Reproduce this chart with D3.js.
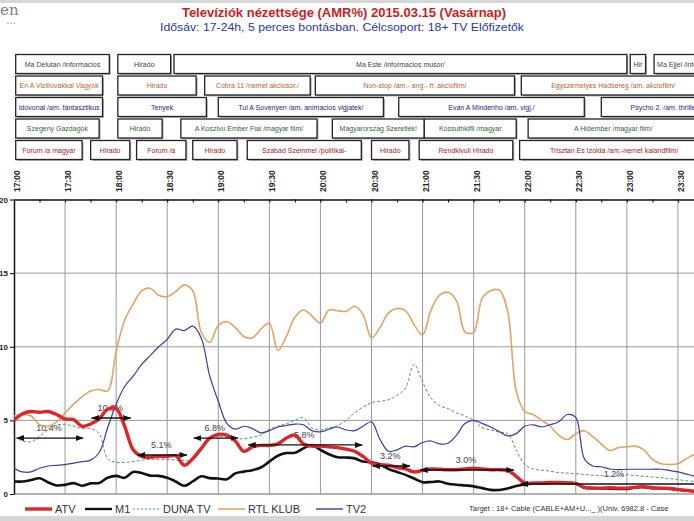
<!DOCTYPE html>
<html>
<head>
<meta charset="utf-8">
<title>Televíziók nézettsége</title>
<style>
  body { margin: 0; background: #fff; }
  svg { display: block; font-family: "Liberation Sans", Arial, sans-serif; }
</style>
<script src="https://cdnjs.cloudflare.com/ajax/libs/d3/7.8.5/d3.min.js"></script>
</head>
<body>
<div id="chart"></div>
<script>
// ---- data ----
const startTime = "17:00";
const stepMinutes = 5;
const channels = ["ATV", "M1", "DUNA TV", "RTL KLUB", "TV2"];

const atv = [5.0,5.45,5.6,5.55,5.6,5.4,5.1,5.05,4.6,4.75,
  5.1,5.75,5.8,4.6,3.0,2.55,2.5,2.55,2.55,2.6,
  1.95,2.4,3.1,3.8,4.05,4.0,3.6,2.9,3.2,3.3,
  3.3,3.4,3.8,4.0,3.4,3.25,3.25,3.2,3.15,3.05,
  2.9,2.55,2.1,2.0,1.95,1.8,1.7,1.5,1.6,1.7,
  1.68,1.65,1.65,1.7,1.75,1.7,1.65,1.65,1.6,1.2,
  0.75,0.75,0.75,0.78,0.78,0.75,0.72,0.45,0.4,0.4,
  0.42,0.4,0.4,0.45,0.5,0.42,0.4,0.38,0.3,0.25,0.18];
const m1 = [0.85,0.85,0.95,1.07,0.8,0.58,0.62,0.74,0.56,0.72,
  0.75,1.1,1.23,1.1,1.5,1.42,1.25,1.23,1.1,0.85,
  0.56,0.85,1.2,1.08,1.05,1.0,1.4,1.52,1.62,1.8,
  2.2,2.6,2.78,2.8,3.1,3.32,3.0,2.7,2.5,2.48,
  2.42,2.2,2.15,2.0,1.7,1.5,1.3,1.05,0.8,0.82,
  0.85,0.7,0.63,0.58,0.52,0.4,0.28,0.27,0.38,0.55,
  0.65,0.7,0.72,0.75,0.78,0.75,0.7,0.42,0.4,0.38,
  0.36,0.35,0.34,0.45,0.47,0.4,0.38,0.35,0.3,0.22,0.18];
const duna = [3.88,3.6,3.55,3.9,4.4,4.68,4.73,4.6,4.45,4.44,
  4.1,2.4,2.15,2.15,2.2,2.3,2.35,2.35,2.35,2.3,
  2.27,2.3,3.0,3.85,3.9,3.85,3.77,3.75,3.85,4.0,
  4.4,4.6,4.78,5.0,5.18,4.5,4.35,4.5,4.65,5.0,
  5.5,5.9,6.2,6.3,6.4,6.7,7.2,8.8,7.6,6.5,
  6.0,5.8,5.5,5.3,5.0,4.5,4.35,4.2,4.1,3.0,
  2.0,1.7,1.62,1.55,1.45,1.42,1.38,1.32,1.28,1.25,
  1.23,1.25,1.3,1.25,1.2,1.15,1.1,1.05,0.98,0.9,0.85];
const rtl = [5.3,5.4,5.3,4.7,4.6,4.9,5.5,6.1,6.6,7.0,
  7.1,7.0,9.7,11.8,12.9,13.8,13.97,13.5,13.4,13.75,
  14.2,13.8,11.0,10.3,11.45,11.7,11.3,10.7,10.6,11.2,
  11.6,9.75,10.7,12.0,12.5,12.1,11.6,12.5,12.45,12.4,
  12.75,12.2,10.6,11.3,12.3,12.6,12.45,11.5,10.8,12.5,
  13.5,13.7,13.1,11.0,11.0,13.3,13.8,13.85,12.4,7.0,
  5.6,5.4,5.0,4.6,4.0,3.7,4.1,4.3,3.9,3.4,
  2.95,3.15,3.2,3.25,3.0,2.35,2.05,2.0,2.05,2.4,2.7];
const tv2 = [1.75,1.5,1.5,1.75,1.9,1.95,2.0,2.1,2.2,2.3,
  2.8,4.5,6.1,7.3,8.0,8.8,9.4,10.0,10.5,11.2,
  11.1,11.4,10.6,8.0,6.3,4.8,4.4,4.6,4.45,4.15,
  4.3,4.55,4.65,4.75,4.7,4.3,4.22,4.4,4.55,4.35,
  4.3,4.6,4.9,3.7,2.9,3.0,3.25,3.2,3.5,3.6,
  3.4,3.45,4.0,4.8,5.0,4.8,4.55,4.25,3.95,4.1,
  4.6,4.7,4.55,4.7,4.9,5.4,5.2,2.4,1.9,1.85,
  1.7,1.65,1.68,1.68,1.68,1.68,1.68,1.6,1.5,1.35,1.2];

const timeTicks = ["17:00","17:30","18:00","18:30","19:00","19:30","20:00",
  "20:30","21:00","21:30","22:00","22:30","23:00","23:30"];
const yTicks = [0, 5, 10, 15, 20];

// program guide rows: [title, start, end]
const progM1 = [
  ["Ma Delutan /informacios", "17:01", "17:56"],
  ["Hirado", "18:01", "18:32"],
  ["Ma Este /informacios musor/", "18:34", "23:00"],
  ["Hir", "23:02", "23:11"],
  ["Ma Ejjel /informacios musor/", "23:16", "24:00"]];
const progRTL = [
  ["En A Viziilovakkal Vagyok", "17:01", "17:52"],
  ["Hirado", "18:01", "18:47"],
  ["Cobra 11 /nemet akciosor./", "18:52", "19:54"],
  ["Non-stop /am.- ang.- fr. akciofilm/", "19:57", "21:54"],
  ["Egyszemelyes Hadsereg /am. akciofilm/", "21:58", "23:46"]];
const progTV2 = [
  ["Idovonal /am. fantasztikus", "17:01", "17:52"],
  ["Tenyek", "18:01", "18:53"],
  ["Tul A Sovenyen /am. animacios vigjatek/", "19:00", "20:37"],
  ["Evan A Mindenho /am. vigj./", "20:46", "22:35"],
  ["Psycho 2. /am. thriller/", "22:45", "24:00"]];
const progDUNA = [
  ["Szegeny Gazdagok", "17:01", "17:50"],
  ["Hirado", "18:01", "18:27"],
  ["A Koszivu Ember Fiai /magyar film/", "18:38", "19:58"],
  ["Magyarorszag  Szeretlek!", "20:07", "21:01"],
  ["Kossuthkifli /magyar", "21:01", "21:55"],
  ["A Hidember /magyar film/", "22:02", "23:42"]];
const progATV = [
  ["Forum /a magyar", "17:01", "17:40"],
  ["Hirado", "17:45", "18:08"],
  ["Forum /a", "18:12", "18:41"],
  ["Hirado", "18:45", "19:11"],
  ["Szabad Szemmel /politikai-", "19:17", "20:24"],
  ["Hirado", "20:30", "20:52"],
  ["Rendkivuli Hirado", "20:58", "21:53"],
  ["Trisztan Es Izolda /am.-nemet kalandfilm/", "21:57", "23:48"]];

// ATV program shares: label and level of the span arrow
const shareLabels = ["10.4%", "10.6%", "5.1%", "6.8%", "5.8%", "3.2%", "3.0%", "1.2%"];
const shareLevels = [3.8, 5.16, 2.65, 3.8, 3.33, 1.9, 1.63, 0.68];

// ---- layout ----
const W = 694, H = 521;
const plotLeft = 14, plotTop = 199.5, plotBottom = 494;

const parseT = s => {
  const [h, m] = s.split(":").map(Number);
  return new Date(2015, 2, 15, h, m);
};
const t0 = parseT(startTime);
const tAt = i => new Date(t0.getTime() + i * stepMinutes * 60000);

const x = d3.scaleTime().domain([t0, parseT("24:00")]).range([plotLeft, 729]);
const y = d3.scaleLinear().domain([0, 20]).range([plotBottom, plotTop]);

const svg = d3.select("#chart").append("svg")
  .attr("width", W).attr("height", H);

svg.append("rect").attr("width", W).attr("height", H).attr("fill", "#fff");
// frame bands of the screenshot
svg.append("rect").attr("x", 0).attr("y", 0).attr("width", W).attr("height", 3).attr("fill", "#d6d6d6");
svg.append("rect").attr("x", 0).attr("y", 516).attr("width", W).attr("height", 5).attr("fill", "#d6d6d6");

// logo fragment
svg.append("text").attr("x", 0).attr("y", 15)
  .attr("font-family", "DejaVu Serif, serif").attr("font-size", 15)
  .attr("fill", "#808080").text("en");
svg.append("text").attr("x", 7).attr("y", 25)
  .attr("font-size", 5).attr("fill", "#999").text("• • •");

// titles
svg.append("text").attr("x", 344).attr("y", 17)
  .attr("text-anchor", "middle").attr("font-weight", "bold")
  .attr("font-size", 13).attr("fill", "#d01c1c")
  .text("Televíziók nézettsége (AMR%) 2015.03.15 (Vasárnap)");
svg.append("text").attr("x", 342).attr("y", 31)
  .attr("text-anchor", "middle").attr("font-size", 11)
  .attr("fill", "#2a35b0")
  .attr("textLength", 364).attr("lengthAdjust", "spacingAndGlyphs")
  .text("Idősáv: 17-24h, 5 perces bontásban. Célcsoport: 18+ TV  Előfizetők");

// ---- program guide boxes ----
const rows = [
  {progs: progM1, color: "#444"},
  {progs: progRTL, color: "#b8652e"},
  {progs: progTV2, color: "#1f2590"},
  {progs: progDUNA, color: "#2f6a35"},
  {progs: progATV, color: "#a82020"}];
const rowY = [54.5, 76, 97.5, 119, 140.5];
const boxH = 19;

const defs = svg.append("defs");
const guide = svg.append("g");
rows.forEach((row, r) => {
  row.progs.forEach((p, j) => {
    const x0 = x(parseT(p[1])), x1 = x(parseT(p[2]));
    const id = "clipbox" + r + "_" + j;
    defs.append("clipPath").attr("id", id)
      .append("rect").attr("x", x0 + 0.5).attr("y", rowY[r]).attr("width", x1 - x0 - 1).attr("height", boxH);
    // soft shadow
    guide.append("rect")
      .attr("x", x0 + 1.5).attr("y", rowY[r] + 1.5).attr("width", x1 - x0).attr("height", boxH)
      .attr("fill", "#b5b5b5");
    guide.append("rect")
      .attr("x", x0).attr("y", rowY[r]).attr("width", x1 - x0).attr("height", boxH)
      .attr("fill", "#fff").attr("stroke", "#222").attr("stroke-width", 1.3);
    const t = guide.append("text")
      .attr("clip-path", "url(#" + id + ")")
      .attr("y", rowY[r] + boxH / 2 + 2.5)
      .attr("font-size", 7).attr("fill", row.color)
      .text(p[0]);
    const tw = t.node().getComputedTextLength();
    if (tw > x1 - x0 - 3) {
      t.attr("x", x0 + 3);
    } else {
      t.attr("x", (x0 + x1) / 2).attr("text-anchor", "middle");
    }
  });
});

// ---- grid ----
const grid = svg.append("g");
grid.selectAll("line.h").data([5, 10, 15]).enter().append("line")
  .attr("x1", plotLeft).attr("x2", W).attr("y1", d => y(d)).attr("y2", d => y(d))
  .attr("stroke", "#9a9a9a").attr("stroke-width", 1);
grid.selectAll("line.v").data(timeTicks.slice(1)).enter().append("line")
  .attr("x1", d => x(parseT(d))).attr("x2", d => x(parseT(d)))
  .attr("y1", plotTop).attr("y2", plotBottom)
  .attr("stroke", "#9a9a9a").attr("stroke-width", 1);
grid.append("line").attr("x1", plotLeft).attr("x2", W).attr("y1", plotBottom).attr("y2", plotBottom)
  .attr("stroke", "#9a9a9a").attr("stroke-width", 1.5);

// top axis: 15 minute ticks
const minorTicks = d3.timeMinute.every(15).range(t0, parseT("24:00"));
const topAxis = d3.axisBottom(x).tickValues(minorTicks).tickSize(3).tickFormat("").tickSizeOuter(0);
svg.append("g").attr("transform", "translate(0," + plotTop + ")").call(topAxis)
  .call(g => g.select(".domain").attr("stroke", "#111").attr("stroke-width", 1.5));

svg.append("g").selectAll("text").data(timeTicks).enter().append("text")
  .attr("transform", d => "translate(" + (x(parseT(d)) + 6) + ",192) rotate(-90)")
  .attr("font-size", 8.5).attr("font-weight", "bold").attr("fill", "#222")
  .text(d => d);

// left axis
const yAxis = d3.axisLeft(y).tickValues(yTicks).tickSize(4).tickPadding(2).tickSizeOuter(0);
svg.append("g").attr("transform", "translate(" + plotLeft + ",0)").call(yAxis)
  .call(g => g.select(".domain").attr("stroke", "#111").attr("stroke-width", 1.5))
  .call(g => g.selectAll("text").attr("font-size", 8).attr("font-weight", "bold").attr("fill", "#222"));

// ---- share annotations (ATV programs) ----
const ann = svg.append("g");
progATV.forEach((p, i) => {
  const x0 = x(parseT(p[1])), x1 = x(parseT(p[2]));
  ann.append("text").attr("x", (x0 + x1) / 2).attr("y", y(shareLevels[i]) - 7)
    .attr("text-anchor", "middle").attr("font-size", 9).attr("fill", "#444")
    .text(shareLabels[i]);
});

// ---- series ----
const plotClip = defs.append("clipPath").attr("id", "plotclip");
plotClip.append("rect").attr("x", plotLeft).attr("y", plotTop - 5).attr("width", W - plotLeft).attr("height", plotBottom - plotTop + 10);

const line = d3.line()
  .x((d, i) => x(tAt(i)))
  .y(d => y(d))
  .curve(d3.curveCatmullRom.alpha(0.5));

const series = [
  {name: "DUNA TV", values: duna, color: "#4f9a7c", width: 1, dash: "3,2"},
  {name: "RTL KLUB", values: rtl, color: "#e3a364", width: 1.6, dash: null},
  {name: "TV2", values: tv2, color: "#3d3aa8", width: 1.2, dash: null},
  {name: "M1", values: m1, color: "#111", width: 2.6, dash: null},
  {name: "ATV", values: atv, color: "#e02428", width: 3.4, dash: null}];

const plot = svg.append("g").attr("clip-path", "url(#plotclip)");
series.forEach(s => {
  plot.append("path").datum(s.values)
    .attr("d", line)
    .attr("fill", "none")
    .attr("stroke", s.color)
    .attr("stroke-width", s.width)
    .attr("stroke-dasharray", s.dash)
    .attr("stroke-linejoin", "round");
});

// arrows over the lines
const marker = defs.append("marker").attr("id", "arrowhead")
  .attr("viewBox", "0 0 8 6").attr("refX", 7.5).attr("refY", 3)
  .attr("markerWidth", 8).attr("markerHeight", 6)
  .attr("markerUnits", "userSpaceOnUse").attr("orient", "auto-start-reverse");
marker.append("path").attr("d", "M0,0 L8,3 L0,6 Z").attr("fill", "#111");

const arrows = svg.append("g").attr("clip-path", "url(#plotclip)");
progATV.forEach((p, i) => {
  const x0 = x(parseT(p[1])) + 1, x1 = x(parseT(p[2])) + 1;
  arrows.append("line")
    .attr("x1", x0).attr("x2", x1)
    .attr("y1", y(shareLevels[i])).attr("y2", y(shareLevels[i]))
    .attr("stroke", "#111").attr("stroke-width", 1.3)
    .attr("marker-start", "url(#arrowhead)").attr("marker-end", "url(#arrowhead)");
});

// ---- legend ----
const legendItems = [
  {name: "ATV", color: "#e02428", width: 3.4, dash: null, x: 25},
  {name: "M1", color: "#111", width: 2.4, dash: null, x: 85},
  {name: "DUNA TV", color: "#4f9a7c", width: 1, dash: "2,2", x: 133},
  {name: "RTL KLUB", color: "#e3a364", width: 1.6, dash: null, x: 218},
  {name: "TV2", color: "#3d3aa8", width: 1.4, dash: null, x: 316}];
const legend = svg.append("g");
legendItems.forEach(d => {
  legend.append("line").attr("x1", d.x).attr("x2", d.x + 27)
    .attr("y1", 509).attr("y2", 509)
    .attr("stroke", d.color).attr("stroke-width", d.width)
    .attr("stroke-dasharray", d.dash);
  legend.append("text").attr("x", d.x + 30).attr("y", 513)
    .attr("font-size", 11).attr("fill", "#333").text(d.name);
});
svg.append("text").attr("x", 469).attr("y", 511)
  .attr("font-size", 7.5).attr("fill", "#333")
  .text("Target : 18+ Cable (CABLE+AM+U..._ )(Univ. 6982.8 - Case");
</script>
</body>
</html>
